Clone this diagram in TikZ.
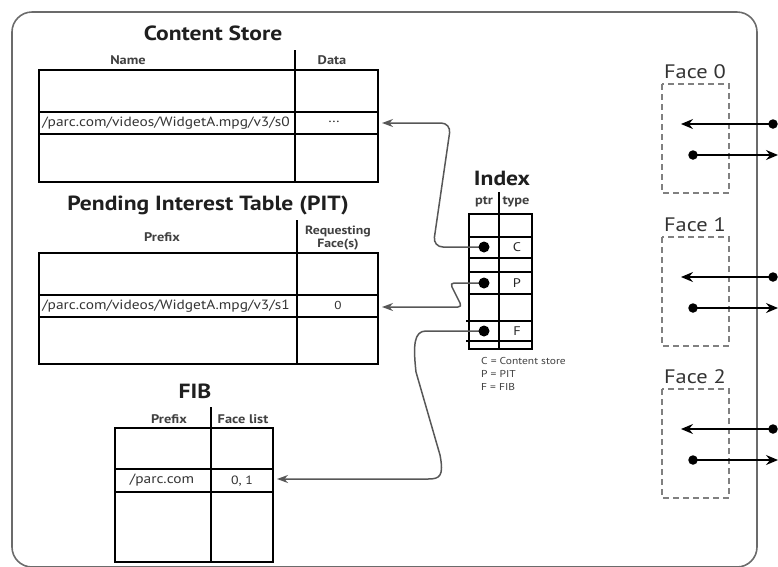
\documentclass[tikz,border=0pt]{standalone}
\usepackage{fontspec}
\setmainfont{PT Sans}[FakeStretch=1.15]
\usetikzlibrary{arrows.meta}
\begin{document}
\begin{tikzpicture}[x=1pt,y=-1pt,
  frame/.style={draw=black!58, line width=1.6pt, rounded corners=20pt},
  tbl/.style={draw=black, line width=1.4pt},
  title/.style={font=\bfseries\fontsize{20.5}{20.5}\selectfont, text=black!88, inner sep=0pt},
  hdr/.style={font=\bfseries\fontsize{12.5}{12.5}\selectfont, text=black!75, inner sep=0pt, align=center},
  cell/.style={font=\fontsize{13.4}{13.4}\selectfont, text=black!80, inner sep=0pt},
  letter/.style={font=\fontsize{12.5}{12.5}\selectfont, text=black!85, inner sep=0pt},
  legend/.style={font=\fontsize{10}{13}\selectfont, text=black!75, inner sep=0pt, align=left},
  facelbl/.style={font=\fontsize{19.5}{19.5}\selectfont, text=black!80, inner sep=0pt},
  facebox/.style={draw=black!50, line width=1.8pt, dash pattern=on 6pt off 4pt},
  ptrdot/.style={circle, fill=black, inner sep=0pt, minimum size=11pt},
  facedot/.style={circle, fill=black, inner sep=0pt, minimum size=9.5pt},
  conn/.style={draw=black!66, line width=1.5pt, -{Stealth[length=11pt,width=8pt]}},
  facearrow/.style={draw=black, line width=1.3pt, -{Stealth[length=12pt,width=10pt,inset=4pt]}}
]
\useasboundingbox (0,0) rectangle (778,566);
\clip (0,0) rectangle (778,566);

% router frame
\draw[frame] (12,12) rectangle (757,567);

% ---------------- Content Store ----------------
\node[title] (cstitle) at (213,33) {Content Store};
\draw[tbl] (39,70) rectangle (378,182);
\draw[tbl] (39,112) -- (378,112) (39,134) -- (378,134);
\draw[tbl] (295,50) -- (295,182);
\node[hdr] (csname) at (128,60) {Name};
\node[hdr] (csdata) at (332,60) {Data};
\node[cell] (csentry) at (166,123) {/parc.com/videos/WidgetA.mpg/v3/s0};
\node[cell] (csval) at (334,122) {\dots};
\coordinate (csin) at (382,123);

% ---------------- PIT ----------------
\node[title] (pittitle) at (208,205) {Pending Interest Table (PIT)};
\draw[tbl] (39,253) rectangle (378,364);
\draw[tbl] (39,295) -- (378,295) (39,317) -- (378,317);
\draw[tbl] (297,220) -- (297,364);
\node[hdr] (pitprefix) at (162,237) {Prefix};
\node[hdr, font=\bfseries\fontsize{12}{13}\selectfont] (pitfaces) at (338,238) {Requesting\\Face(s)};
\node[cell] (pitentry) at (166,306) {/parc.com/videos/WidgetA.mpg/v3/s1};
\node[cell, font=\fontsize{11.5}{11.5}\selectfont] (pitval) at (338,305) {0};
\coordinate (pitin) at (382,307);

% ---------------- FIB ----------------
\node[title] (fibtitle) at (195,391) {FIB};
\draw[tbl] (115,428) rectangle (273,562);
\draw[tbl] (115,469) -- (273,469) (115,492) -- (273,492);
\draw[tbl] (211,407) -- (211,562);
\node[hdr] (fibprefix) at (169,419) {Prefix};
\node[hdr] (fibfaces) at (243,419) {Face list};
\node[cell] (fibentry) at (162,480) {/parc.com};
\node[cell, font=\fontsize{12}{12}\selectfont] (fibval) at (242,481) {0, 1};
\coordinate (fibin) at (277,479);

% ---------------- Index ----------------
\node[title] (idxtitle) at (502,178) {Index};
\draw[tbl] (469,214) rectangle (532,349);
\draw[tbl] (469,237) -- (532,237) (469,258) -- (532,258)
           (469,272) -- (532,272) (469,294) -- (532,294)
           (466,321) -- (532,321) (466,341) -- (532,341);
\draw[tbl] (499,192) -- (499,349);
\node[hdr] (idxptr) at (484,202) {ptr};
\node[hdr] (idxtype) at (516,202) {type};
\node[letter] (tc) at (517,247) {C};
\node[letter] (tp) at (517,283) {P};
\node[letter] (tf) at (517,331) {F};
\node[legend, anchor=north west] (legend) at (481,357)
  {C = Content store\\P = PIT\\F = FIB};

% pointers from the index into the three tables
\draw[conn, rounded corners=10pt] (484,247) -- (433,247) -- (451,123) -- (csin);
\draw[conn, rounded corners=4pt] (484,283) -- (450,283) -- (462,307) -- (pitin);
\draw[conn] (484,331) -- (426,331) .. controls (414,331) and (413,345) .. (416,372)
  -- (440,455) .. controls (444,476) and (440,479) .. (428,479) -- (fibin);
\node[ptrdot] (cdot) at (484,247) {};
\node[ptrdot] (pdot) at (484,283) {};
\node[ptrdot] (fdot) at (484,331) {};

% ---------------- Faces ----------------
\foreach \i/\t in {0/84,1/237,2/389}{
  \node[facelbl] (face\i) at (695,\t-12) {Face \i};
  \draw[facebox] (662,\t) rectangle (729,\t+109);
  \node[facedot] (inA\i) at (773,\t+40) {};
  \coordinate (inB\i) at (681,\t+40);
  \draw[facearrow] (inA\i.center) -- (inB\i);
  \node[facedot] (outA\i) at (693,\t+71) {};
  \coordinate (outB\i) at (778,\t+71);
  \draw[facearrow] (outA\i.center) -- (outB\i);
}
\end{tikzpicture}
\end{document}
